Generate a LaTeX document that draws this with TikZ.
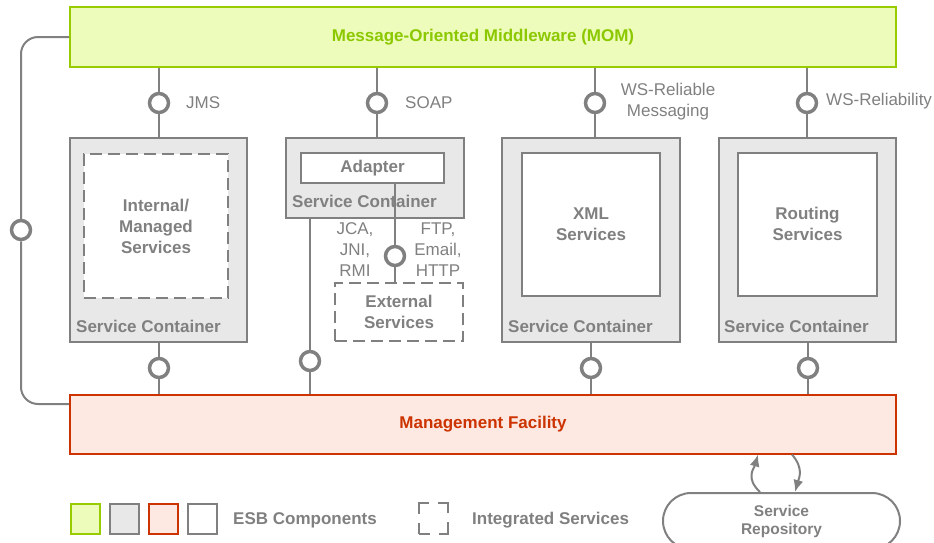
\documentclass[tikz,border=0pt]{standalone}
\usepackage{fontspec}
\setmainfont{Liberation Sans}
\usetikzlibrary{arrows.meta}
\definecolor{lineg}{HTML}{808080}
\definecolor{boxfill}{HTML}{E8E8E8}
\definecolor{momfill}{HTML}{EEFCBB}
\definecolor{momline}{HTML}{99CC00}
\definecolor{momtext}{HTML}{8CC800}
\definecolor{mgmtfill}{HTML}{FDE9E1}
\definecolor{mgmtline}{HTML}{CC3300}
\tikzset{
  txt/.style={font=\fontsize{17}{21}\selectfont, text=lineg, inner sep=0pt},
  btxt/.style={txt, font=\fontsize{17}{21}\selectfont\bfseries},
  box/.style={draw=lineg, line width=2pt, fill=boxfill, inner sep=0pt},
  container/.style={box, minimum width=177, minimum height=204},
  svc/.style={btxt, box, fill=white, align=center, minimum width=138, minimum height=143},
  dashy/.style={dash pattern=on 12pt off 6pt},
  wire/.style={draw=lineg, line width=2pt},
  ball/.style={circle, draw=lineg, line width=3.5pt, fill=white, minimum size=19, inner sep=0pt},
  flow/.style={wire, -{Latex[length=12pt,width=10pt]}}
}

\begin{document}
\begin{tikzpicture}[x=1pt, y=-1pt]
\useasboundingbox (0,0) rectangle (934,542);

% Bus and management
\node[btxt, box, fill=momfill, draw=momline, text=momtext, minimum width=826, minimum height=60] (mom) at (483,37) {Message-Oriented Middleware (MOM)};
\node[btxt, box, fill=mgmtfill, draw=mgmtline, text=mgmtline, minimum width=826, minimum height=59] (mgmt) at (483,424) {Management Facility};

% Service containers
\node[container] (sc1) at (158.5,240) {};
\node[container, minimum width=178, minimum height=80] (sc2) at (375,178) {};
\node[container, minimum width=178] (sc3) at (591,240) {};
\node[container] (sc4) at (807.5,240) {};
\foreach \n/\x/\y in {1/76/326, 2/292/201, 3/508/326, 4/724/326}
  \node[btxt, anchor=west] (sclbl\n) at (\x,\y) {Service Container};

% Services
\node[svc, dashy, minimum width=144, minimum height=144] (int) at (156,226) {Internal/\\Managed\\Services};
\node[svc] (xml) at (591,224) {XML\\Services};
\node[svc, minimum width=139] (route) at (807.5,224) {Routing\\Services};
\node[svc, minimum width=143, minimum height=30] (adapter) at (372.5,168) {Adapter};
\node[svc, dashy, minimum width=128, minimum height=58] (ext) at (399,312) {External\\Services};

% Bus connectors
\foreach \n/\x in {1/159, 2/377, 3/595, 4/807} {
  \node[ball] (top\n) at (\x,103) {};
  \draw[wire] (top\n) -- (top\n |- mom.south);
  \draw[wire] (top\n) -- (top\n |- sc\n.north);
}
\node[txt, anchor=west] (jms) at (186,103) {JMS};
\node[txt, anchor=west] (soap) at (405,103) {SOAP};
\node[txt, align=center] (wsrm) at (668,101.5) {WS-Reliable\\Messaging};
\node[txt, anchor=west] (wsr) at (826,101) {WS-Reliability};

% Management connectors
\foreach \n/\x in {1/159, 3/591, 4/808} {
  \node[ball] (bot\n) at (\x,368) {};
  \draw[wire] (bot\n) -- (bot\n |- sc\n.south);
  \draw[wire] (bot\n) -- (bot\n |- mgmt.north);
}
\node[ball] (bot2) at (310,361) {};
\draw[wire] (bot2) -- (bot2 |- sc2.south);
\draw[wire] (bot2) -- (bot2 |- mgmt.north);

% Adapter to external services
\node[ball] (ada) at (395,256) {};
\draw[wire] (ada) -- (ada |- adapter.south);
\draw[wire] (ada) -- (ada |- ext.north);
\node[txt, align=center] (jca) at (355,250) {JCA,\\JNI,\\RMI};
\node[txt, align=center] (ftp) at (438,250) {FTP,\\Email,\\HTTP};

% Side loop
\node[ball] (side) at (21,230) {};
\draw[wire, rounded corners=17] (mom.west) -| (side);
\draw[wire, rounded corners=17] (side) |- ([yshift=20pt]mgmt.west);

% Repository
\node[btxt, draw=lineg, line width=2pt, rounded corners=28, minimum width=237, minimum height=56, align=center, font=\fontsize{15.5}{18}\selectfont\bfseries] (repo) at (781.5,521) {Service\\Repository};
\draw[flow] ([xshift=-21.5pt]repo.north) .. controls ([xshift=-36.5pt,yshift=14pt]repo.north) and ([xshift=271pt,yshift=-14pt]mgmt.south) .. ([xshift=275pt]mgmt.south);
\draw[flow] ([xshift=309pt]mgmt.south) .. controls ([xshift=321pt,yshift=-14pt]mgmt.south) and ([xshift=17.5pt,yshift=14pt]repo.north) .. ([xshift=13.5pt]repo.north);

% Legend
\foreach \fc/\dc [count=\i] in {momfill/momline, boxfill/lineg, mgmtfill/mgmtline, white/lineg}
  \node[box, fill=\fc, draw=\dc, minimum width=29, minimum height=30] (leg\i) at ({85+39.3*(\i-1)},518.5) {};
\node[btxt, anchor=west] (esb) at (233,520) {ESB Components};
\node[box, fill=none, dash pattern=on 21pt off 9pt, dash phase=10.5pt, minimum width=29, minimum height=31] (legdash) at (433.5,518) {};
\node[btxt, anchor=west] (integ) at (472,520) {Integrated Services};
\end{tikzpicture}
\end{document}
